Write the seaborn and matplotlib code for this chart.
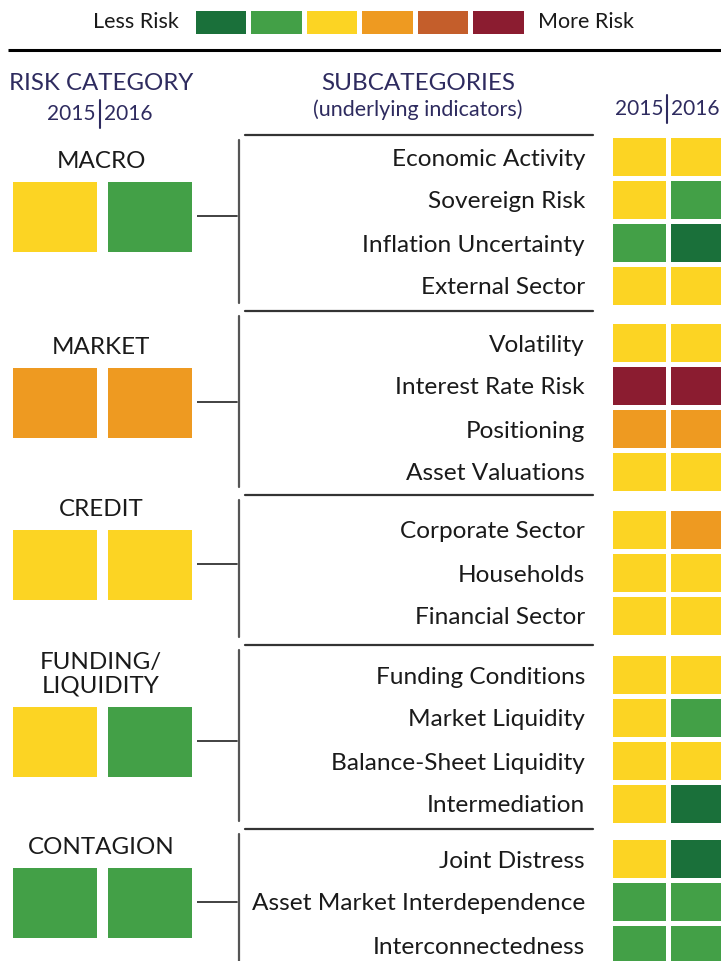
import numpy as np
import matplotlib
matplotlib.use("Agg")
import matplotlib.pyplot as plt
from matplotlib.colors import ListedColormap
import seaborn as sns

# risk scale: 0 = less risk ... 5 = more risk
risk_colors = ["#1a703a", "#43a047", "#fcd423", "#ee9a21", "#c45e2b", "#8b1c30"]
risk_levels = [0, 1, 2, 3, 4, 5]
years = ["2015", "2016"]

categories = ["MACRO", "MARKET", "CREDIT", "FUNDING/\nLIQUIDITY", "CONTAGION"]
category_2015 = [2, 3, 2, 2, 1]
category_2016 = [1, 3, 2, 1, 1]

macro_subs = ["Economic Activity", "Sovereign Risk", "Inflation Uncertainty", "External Sector"]
macro_2015 = [2, 2, 1, 2]
macro_2016 = [2, 1, 0, 2]

market_subs = ["Volatility", "Interest Rate Risk", "Positioning", "Asset Valuations"]
market_2015 = [2, 5, 3, 2]
market_2016 = [2, 5, 3, 2]

credit_subs = ["Corporate Sector", "Households", "Financial Sector"]
credit_2015 = [2, 2, 2]
credit_2016 = [3, 2, 2]

funding_subs = ["Funding Conditions", "Market Liquidity", "Balance-Sheet Liquidity", "Intermediation"]
funding_2015 = [2, 2, 2, 2]
funding_2016 = [2, 1, 2, 0]

contagion_subs = ["Joint Distress", "Asset Market Interdependence", "Interconnectedness"]
contagion_2015 = [2, 1, 1]
contagion_2016 = [0, 1, 1]

groups = [
    (macro_subs, macro_2015, macro_2016),
    (market_subs, market_2015, market_2016),
    (credit_subs, credit_2015, credit_2016),
    (funding_subs, funding_2015, funding_2016),
    (contagion_subs, contagion_2015, contagion_2016),
]

# layout (pixels, y down)
W, H = 721, 961
row_tops = [137, 323, 510, 655, 839]
hline_y = [135, 311, 495, 645, 829]
sq_tops = [181, 367, 529, 706, 867]
row_pitch = 43

head_color = "#2e2b5f"
text_color = "#1a1a1a"

sns.set_theme(style="white")
plt.rcParams["font.family"] = ["Lato", "DejaVu Sans"]

cmap = ListedColormap(risk_colors)

fig = plt.figure(figsize=(W / 100, H / 100), dpi=100)
ax = fig.add_axes([0, 0, 1, 1])
ax.set_xlim(0, W)
ax.set_ylim(H, 0)
ax.axis("off")


def px_axes(x0, y0, x1, y1):
    return fig.add_axes([x0 / W, 1 - y1 / H, (x1 - x0) / W, (y1 - y0) / H])


def heat(axh, data, gap):
    sns.heatmap(np.array(data), ax=axh, cmap=cmap, vmin=-0.5, vmax=5.5,
                cbar=False, linewidths=gap * 0.72, linecolor="white",
                xticklabels=False, yticklabels=False)
    axh.axis("off")


# legend
heat(px_axes(192.5, 7.5, 525.5, 35.5), [risk_levels], 5)
ax.text(179, 22, "Less Risk", ha="right", va="center", fontsize=15.5, color=text_color)
ax.text(538, 22, "More Risk", ha="left", va="center", fontsize=15.5, color=text_color)
ax.plot([8, W], [50, 50], color="black", lw=2.2, solid_capstyle="butt")

# headers
ax.text(101, 84, "RISK CATEGORY", ha="center", va="center", fontsize=17.3, color=head_color)
ax.text(418, 84, "SUBCATEGORIES", ha="center", va="center", fontsize=17.5, color=head_color)
ax.text(418, 110, "(underlying indicators)", ha="center", va="center", fontsize=15.5, color=head_color)
for xs, ys in [(100, 114), (667, 109)]:
    ax.text(xs - 4, ys, years[0], ha="right", va="center", fontsize=15, color=head_color)
    ax.text(xs + 4, ys, years[1], ha="left", va="center", fontsize=15, color=head_color)
    ax.plot([xs, xs], [ys - 14, ys + 14], color=head_color, lw=1.5)

for i, (subs, v15, v16) in enumerate(groups):
    n = len(subs)
    top = row_tops[i]
    # subcategory cells
    heat(px_axes(609.5, top - 2.5, 725.5, top - 2.5 + n * row_pitch),
         np.column_stack([v15, v16]), 5)
    for j, name in enumerate(subs):
        ax.text(585, top + 22 + j * row_pitch, name, ha="right", va="center",
                fontsize=17.6, color=text_color)
    # category cells
    sq = sq_tops[i]
    heat(px_axes(6.5, sq - 5.5, 196.5, sq + 75.5),
         [[category_2015[i], category_2016[i]]], 11)
    ax.text(101, sq - 9, categories[i], ha="center", va="bottom", fontsize=17.4,
            color=text_color, linespacing=1.2)
    # connectors
    ax.plot([191, 237], [sq + 35, sq + 35], color="#333333", lw=1.3)
    y_end = hline_y[i + 1] - 8 if i + 1 < len(groups) else H
    ax.plot([239, 239], [hline_y[i] + 5, y_end], color="#555555", lw=1.6)
    ax.plot([245, 593], [hline_y[i], hline_y[i]], color="#333333", lw=1.6)

fig.savefig("out.png", dpi=100, facecolor="white")
